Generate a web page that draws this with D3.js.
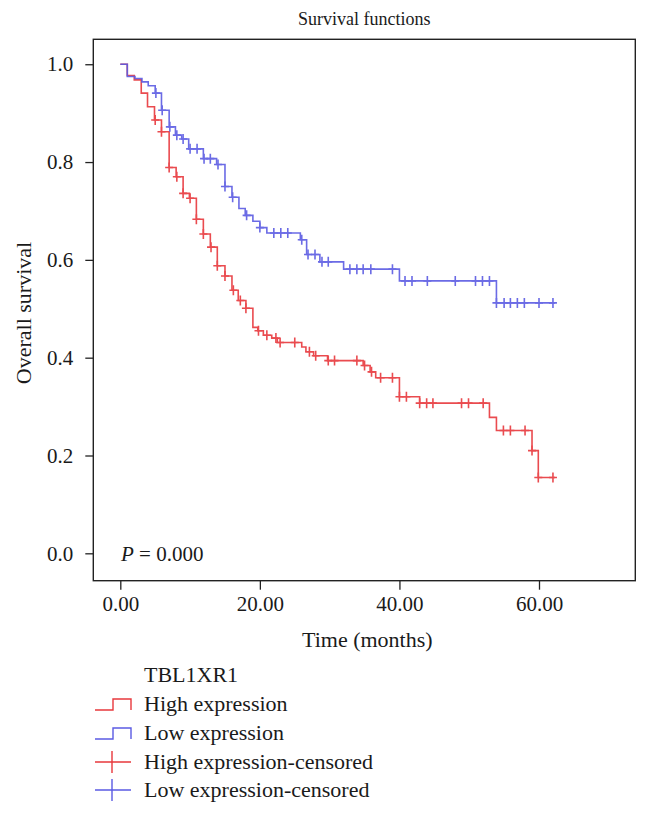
<!DOCTYPE html>
<html>
<head>
<meta charset="utf-8">
<script src="https://cdn.jsdelivr.net/npm/d3@7/dist/d3.min.js"></script>
<style>
  html, body { margin: 0; padding: 0; background: #fff; }
  svg { display: block; }
  text { font-family: "Liberation Serif", "DejaVu Serif", serif; fill: #1a1a1a; }
</style>
</head>
<body>
<svg id="chart" width="650" height="816"></svg>
<script>
// ---- Data ----
const xTicks = [0, 20, 40, 60];
const yTicks = [0.0, 0.2, 0.4, 0.6, 0.8, 1.0];

// High expression: step (event) times and survival after each step
const highEventTimes = [0, 1.0, 2.0, 3.0, 3.9, 4.9, 5.9, 7.0, 8.0, 9.0, 9.9, 10.9, 11.9, 12.9, 13.9, 15.0, 16.0, 16.9, 18.0, 19.0, 19.7, 20.5, 21.7, 22.5, 26.0, 26.6, 27.7, 29.7, 34.8, 35.8, 36.6, 40.0, 42.9, 52.9, 53.9, 59.0, 59.9];
const highSurvival   = [1.0, 0.977, 0.968, 0.941, 0.913, 0.886, 0.862, 0.789, 0.770, 0.736, 0.726, 0.683, 0.653, 0.626, 0.588, 0.567, 0.538, 0.517, 0.501, 0.462, 0.455, 0.446, 0.440, 0.431, 0.422, 0.412, 0.404, 0.394, 0.384, 0.371, 0.359, 0.320, 0.307, 0.278, 0.251, 0.210, 0.155];
const highCensored   = [5.0, 5.9, 7.0, 8.1, 9.0, 10.0, 10.9, 11.9, 13.0, 13.9, 15.0, 16.2, 17.2, 18.0, 19.8, 21.0, 22.3, 22.9, 25.0, 27.1, 28.0, 29.8, 30.7, 33.9, 35.0, 36.0, 37.3, 39.0, 40.0, 41.0, 42.9, 43.9, 44.8, 48.9, 49.9, 52.0, 54.9, 55.9, 58.0, 59.0, 59.9, 62.0];
const highEnd = 62.3;

// Low expression
const lowEventTimes = [0, 1.0, 2.1, 3.1, 4.0, 5.0, 5.9, 7.0, 7.9, 8.8, 9.8, 11.9, 13.8, 15.0, 16.0, 17.0, 17.9, 19.0, 20.0, 21.0, 25.8, 26.7, 28.6, 32.0, 40.0, 53.9];
const lowSurvival   = [1.0, 0.975, 0.971, 0.964, 0.956, 0.941, 0.906, 0.872, 0.855, 0.847, 0.827, 0.807, 0.795, 0.750, 0.728, 0.705, 0.691, 0.679, 0.666, 0.655, 0.641, 0.611, 0.596, 0.581, 0.557, 0.512];
const lowCensored   = [5.1, 6.0, 7.1, 8.1, 9.0, 10.0, 11.0, 12.0, 12.9, 14.0, 15.0, 16.1, 18.1, 20.0, 22.0, 23.0, 24.0, 26.0, 26.9, 27.9, 28.9, 29.8, 32.9, 33.9, 34.8, 35.9, 39.0, 40.8, 41.8, 44.0, 48.0, 50.9, 51.9, 52.9, 53.9, 55.0, 55.9, 56.9, 57.9, 60.0, 62.0];
const lowEnd = 62.3;

const legendTitle = "TBL1XR1";
const legendLabels = ["High expression", "Low expression", "High expression-censored", "Low expression-censored"];

// ---- Layout ----
const RED = "#e8383d", BLUE = "#5b5be3";
const frame = { left: 93.3, right: 635.3, top: 39.3, bottom: 580.7 };
const FS = 21, LFS = 22;

const svg = d3.select("#chart");
svg.append("rect").attr("width", 650).attr("height", 816).attr("fill", "#fff");

const x = d3.scaleLinear().domain([-3.87, 73.8]).range([frame.left, frame.right]);
const y = d3.scaleLinear().domain([-0.056, 1.051]).range([frame.bottom, frame.top]);

// Title
svg.append("text").attr("x", (frame.left + frame.right) / 2).attr("y", 25)
  .attr("text-anchor", "middle").style("font-size", "18px").text("Survival functions");

// Axes
const yAxis = d3.axisLeft(y).tickValues(yTicks).tickFormat(d3.format(".1f")).tickSize(8).tickPadding(12).tickSizeOuter(0);
const gy = svg.append("g").attr("transform", `translate(${frame.left},0)`).call(yAxis);
const xAxis = d3.axisBottom(x).tickValues(xTicks).tickFormat(d3.format(".2f")).tickSize(9).tickPadding(6).tickSizeOuter(0);
const gx = svg.append("g").attr("transform", `translate(0,${frame.bottom})`).call(xAxis);
[gx, gy].forEach(g => {
  g.select(".domain").remove();
  g.selectAll(".tick line").attr("stroke", "#222").attr("stroke-width", 1.3);
  g.selectAll(".tick text").style("font-size", FS + "px").style("font-family", '"Liberation Serif", serif').attr("fill", "#1a1a1a");
});

// Frame
svg.append("rect").attr("x", frame.left).attr("y", frame.top)
  .attr("width", frame.right - frame.left).attr("height", frame.bottom - frame.top)
  .attr("fill", "none").attr("stroke", "#222").attr("stroke-width", 1.4);

// Axis labels
svg.append("text").attr("x", (frame.left + frame.right) / 2 + 3).attr("y", 647)
  .attr("text-anchor", "middle").style("font-size", LFS + "px").text("Time (months)");
svg.append("text").attr("transform", `translate(31,${(frame.top + frame.bottom) / 2 + 3}) rotate(-90)`)
  .attr("text-anchor", "middle").style("font-size", LFS + "px").text("Overall survival");

// P value
const pText = svg.append("text").attr("x", 121).attr("y", 561).style("font-size", FS + "px");
pText.append("tspan").style("font-style", "italic").text("P");
pText.append("tspan").text(" = 0.000");

// Curves
function stepPoints(times, surv, end) {
  const pts = times.map((t, i) => [t, surv[i]]);
  pts.push([end, surv[surv.length - 1]]);
  return pts;
}
function survAt(times, surv, t) {
  let s = surv[0];
  for (let i = 0; i < times.length; i++) if (times[i] <= t + 1e-9) s = surv[i];
  return s;
}
const line = d3.line().x(d => x(d[0])).y(d => y(d[1])).curve(d3.curveStepAfter);

const groups = [
  { times: highEventTimes, surv: highSurvival, cens: highCensored, end: highEnd, color: RED },
  { times: lowEventTimes, surv: lowSurvival, cens: lowCensored, end: lowEnd, color: BLUE }
];
groups.forEach(gr => {
  const g = svg.append("g").attr("opacity", 0.9);
  g.append("path").attr("d", line(stepPoints(gr.times, gr.surv, gr.end)))
    .attr("fill", "none").attr("stroke", gr.color).attr("stroke-width", 1.6);
  g.selectAll("path.cens").data(gr.cens).join("path").attr("class", "cens")
    .attr("d", t => {
      const cx = x(t), cy = y(survAt(gr.times, gr.surv, t));
      return `M${cx - 4},${cy}H${cx + 4}M${cx},${cy - 5}V${cy + 5}`;
    })
    .attr("stroke", gr.color).attr("stroke-width", 1.6).attr("fill", "none");
});

// Legend
const lg = svg.append("g");
const textX = 144;
lg.append("text").attr("x", textX).attr("y", 682).style("font-size", LFS + "px").text(legendTitle);
const legendColors = [RED, BLUE, RED, BLUE];
const legendY = [704, 733, 762, 790];
legendLabels.forEach((lab, i) => {
  const cy = legendY[i];
  const c = legendColors[i];
  if (i < 2) {
    lg.append("path").attr("d", `M95,${cy + 6}H113V${cy - 5}H131V${cy + 6}`)
      .attr("fill", "none").attr("stroke", c).attr("stroke-width", 1.4);
  } else {
    lg.append("path").attr("d", `M95,${cy}H131M112,${cy - 11}V${cy + 11}`)
      .attr("fill", "none").attr("stroke", c).attr("stroke-width", 1.4);
  }
  lg.append("text").attr("x", textX).attr("y", cy + 7).style("font-size", LFS + "px").text(lab);
});
</script>
</body>
</html>
